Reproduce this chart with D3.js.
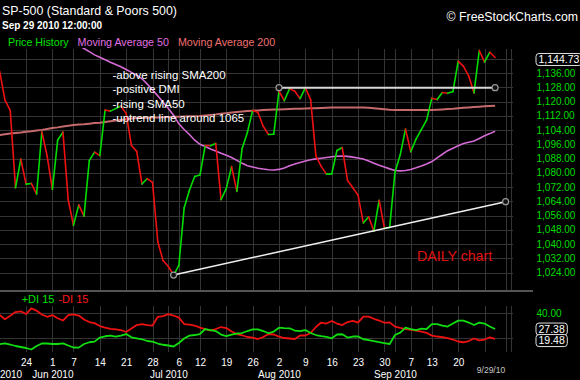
<!DOCTYPE html>
<html><head><meta charset="utf-8">
<script src="https://cdn.jsdelivr.net/npm/d3@7"></script>
<style>
html,body{margin:0;padding:0;background:#000;}
svg{display:block;font-family:"Liberation Sans",Arial,sans-serif;}
</style></head><body>
<svg id="c" width="580" height="380"></svg>
<script>
// ---------- DATA ----------
const days = [
"2010-05-17","2010-05-18","2010-05-19","2010-05-20","2010-05-21","2010-05-24","2010-05-25","2010-05-26","2010-05-27","2010-05-28",
"2010-06-01","2010-06-02","2010-06-03","2010-06-04","2010-06-07","2010-06-08","2010-06-09","2010-06-10","2010-06-11","2010-06-14",
"2010-06-15","2010-06-16","2010-06-17","2010-06-18","2010-06-21","2010-06-22","2010-06-23","2010-06-24","2010-06-25","2010-06-28",
"2010-06-29","2010-06-30","2010-07-01","2010-07-02","2010-07-06","2010-07-07","2010-07-08","2010-07-09","2010-07-12","2010-07-13",
"2010-07-14","2010-07-15","2010-07-16","2010-07-19","2010-07-20","2010-07-21","2010-07-22","2010-07-23","2010-07-26","2010-07-27",
"2010-07-28","2010-07-29","2010-07-30","2010-08-02","2010-08-03","2010-08-04","2010-08-05","2010-08-06","2010-08-09","2010-08-10",
"2010-08-11","2010-08-12","2010-08-13","2010-08-16","2010-08-17","2010-08-18","2010-08-19","2010-08-20","2010-08-23","2010-08-24",
"2010-08-25","2010-08-26","2010-08-27","2010-08-30","2010-08-31","2010-09-01","2010-09-02","2010-09-03","2010-09-07","2010-09-08",
"2010-09-09","2010-09-10","2010-09-13","2010-09-14","2010-09-15","2010-09-16","2010-09-17","2010-09-20","2010-09-21","2010-09-22",
"2010-09-23","2010-09-24","2010-09-27","2010-09-28","2010-09-29","2010-09-30","2010-10-01","2010-10-04"];

const closes = [
1136.94,1120.80,1115.05,1071.59,1087.69,1073.65,1074.03,1067.95,1103.06,1089.41,
1070.71,1098.38,1102.83,1064.88,1050.47,1062.00,1055.69,1086.84,1091.60,1089.63,
1115.23,1114.61,1116.04,1117.51,1113.20,1095.31,1092.04,1073.69,1076.76,1074.57,
1041.24,1030.71,1027.37,1022.58,1028.06,1060.27,1070.25,1077.96,1078.75,1095.34,
1095.17,1096.48,1064.88,1071.25,1083.48,1069.59,1093.67,1102.66,1115.01,1113.84,
1106.13,1101.53,1101.60,1125.86,1120.46,1127.24,1125.81,1121.64,1127.79,1121.06,
1089.47,1083.61,1079.25,1079.38,1092.54,1094.16,1075.63,1071.69,1067.36,1051.87,
1055.33,1047.22,1064.59,1048.92,1049.33,1080.29,1090.10,1104.51,1091.84,1098.87,
1104.18,1109.55,1121.90,1121.10,1125.07,1124.66,1125.59,1142.71,1139.78,1134.28,
1124.83,1148.67,1142.16,1147.70,1144.73];

const sma50 = [
1168,1167.5,1167,1166,1165.5,1164.5,1163.5,1162.5,1161.5,1160.5,
1159,1158,1156.5,1155,1153.3,1151.5,1149.8,1148,1146.2,1144.9,
1143.5,1142.1,1140.8,1139.5,1138,1136.4,1134.8,1132.8,1129.8,1126.5,
1123.2,1119.6,1116.1,1112.3,1107.5,1104.3,1101.5,1098.3,1096.0,1094.8,
1093.4,1092.2,1091.0,1089.8,1088.6,1087.0,1085.3,1084.0,1083.3,1082.6,
1082.1,1081.7,1081.6,1081.9,1082.7,1083.9,1085.0,1085.8,1086.6,1087.3,
1087.8,1088.2,1088.6,1089.0,1089.3,1089.4,1089.2,1088.8,1088.3,1087.8,
1086.6,1085.4,1084.2,1083.2,1082.2,1081.3,1081.1,1081.3,1081.9,1082.8,
1083.8,1084.9,1086.3,1088.4,1090.4,1092.4,1093.8,1095.2,1096.5,1097.2,
1097.9,1099.3,1100.8,1102.0,1103.3];

const sma200 = [
1101.2,1101.6,1102.0,1102.3,1102.6,1103.0,1103.3,1103.7,1104.1,1104.6,
1105.1,1105.5,1106.0,1106.4,1106.8,1107.1,1107.3,1107.6,1107.9,1108.1,
1108.5,1108.9,1109.3,1109.7,1110.1,1110.5,1110.7,1110.8,1110.9,1111.0,
1111.1,1111.2,1111.3,1111.4,1111.5,1111.6,1111.7,1111.8,1111.9,1112.2,
1112.5,1112.8,1113.2,1113.5,1113.8,1114.1,1114.4,1114.7,1114.9,1115.0,
1115.2,1115.4,1115.5,1115.6,1115.7,1115.8,1115.9,1116.0,1116.1,1116.2,
1116.3,1116.4,1116.5,1116.6,1116.6,1116.6,1116.7,1116.7,1116.7,1116.7,
1116.5,1116.3,1116.0,1115.7,1115.4,1115.2,1115.2,1115.2,1115.2,1115.2,
1115.2,1115.2,1115.2,1115.4,1115.6,1115.8,1116.0,1116.3,1116.5,1116.7,
1116.9,1117.1,1117.3,1117.5,1117.7];

const plusDI = [
15.2,16.0,15.0,13.8,13.0,12.2,11.0,13.8,15.8,15.8,
15.4,15.4,15.9,14.2,12.6,12.5,15.4,16.8,17.3,20.6,
21.6,22.1,21.4,22.2,23.4,20.8,20.0,19.2,17.8,17.3,
15.8,14.8,14.2,13.4,16.2,19.8,22.1,22.6,23.4,27.4,
26.6,25.8,23.0,21.8,23.0,23.8,24.2,25.8,27.1,27.2,
25.8,24.0,25.4,28.5,28.2,28.0,26.2,25.8,26.6,24.2,
22.6,21.8,21.2,20.0,23.0,23.2,20.6,21.4,21.4,19.2,
18.6,17.8,16.9,16.1,15.4,22.6,24.5,28.6,27.4,26.6,
27.8,27.4,31.4,31.4,30.2,29.4,31.8,34.1,34.1,32.6,
30.6,32.5,31.8,29.4,27.38];

const minusDI = [
38.6,35.2,38.0,41.0,41.6,39.4,44.0,42.1,39.0,37.2,
38.6,36.0,34.2,38.6,39.2,38.2,35.0,33.0,32.1,29.8,
28.6,27.6,27.2,26.6,25.0,27.8,30.6,31.4,30.6,30.2,
37.2,37.8,39.4,38.2,36.5,31.4,30.9,30.2,28.5,27.4,
26.2,27.4,29.0,28.2,25.4,23.4,22.4,21.0,20.5,19.4,
21.0,23.4,23.0,21.3,20.2,19.8,19.4,22.2,22.2,24.2,
29.0,32.6,31.8,33.8,31.8,30.6,33.0,34.0,32.6,37.3,
37.3,35.6,34.2,32.4,32.7,29.3,28.3,27.4,26.8,26.1,
25.4,24.4,22.1,21.4,20.9,20.1,19.0,17.4,16.8,17.8,
19.8,18.3,19.0,20.7,19.48];

const priceTicks = [1024,1032,1040,1048,1056,1064,1072,1080,1088,1096,1104,1112,1120,1128,1136];
const priceGrid = [1024,1032,1040,1048,1056,1064,1072,1080,1088,1096,1104,1112,1120,1128,1136,1144];
const diTicks = [40];
const diGrid = [20, 40];

// drawn trend lines: [date, value] endpoints
const supportLine = [["2010-07-02",1022.58],["2010-10-01",1063.8]];
const resistLine = [["2010-08-02",1127.79],["2010-09-29",1127.79]];

const notes = ["-above rising SMA200","-positive DMI","-rising SMA50","-uptrend line around 1065"];
const title = "SP-500 (Standard & Poors 500)";
const subtitle = "Sep 29 2010 12:00:00";
const legend = [["Price History","#00e000"],["Moving Average 50","#e070e0"],["Moving Average 200","#f07070"]];
const diLegend = [["+DI 15","#00e000"],["-DI 15","#ff1a1a"]];

// ---------- CHART ----------
const FONT = '"Liberation Sans",Arial,sans-serif';
const GREEN = "#00dd00", RED = "#ee1111";
const parse = d3.timeParse("%Y-%m-%d");
const svg = d3.select("#c");
const PR = 513;

const x = d3.scalePoint().domain(days).range([-0.3, 510.9]);
const yP = d3.scaleLinear().domain([1014.2, 1149.5]).range([290, 49]);
const yD = d3.scaleLinear().domain([9, 45.84]).range([352, 306]);

const defs = svg.append("defs");
defs.append("clipPath").attr("id","cp").append("rect").attr("x",0).attr("y",48).attr("width",PR).attr("height",242);
defs.append("clipPath").attr("id","cd").append("rect").attr("x",0).attr("y",306).attr("width",PR).attr("height",46);

// vertical grid at week starts and month starts
const gridDays = days.filter((d,i)=>{
  if(i===0) return false;
  const a=parse(days[i-1]), b=parse(d);
  return b.getDay()<a.getDay() || b.getMonth()!==a.getMonth();
});
const weekStarts = days.map((d,i)=>i).filter(i=>i>0 && parse(days[i]).getDay()<parse(days[i-1]).getDay()).map(i=>days[i]);
const monthStarts = days.map((d,i)=>i).filter(i=>i===0 || parse(days[i]).getMonth()!==parse(days[i-1]).getMonth()).map(i=>days[i]);

const grid = svg.append("g").attr("stroke","#343434").attr("stroke-width",1).attr("shape-rendering","crispEdges");
grid.selectAll(".vp").data(gridDays).join("line")
  .attr("x1",d=>Math.round(x(d))+0.5).attr("x2",d=>Math.round(x(d))+0.5).attr("y1",49).attr("y2",290);
grid.selectAll(".vd").data(gridDays).join("line").attr("class","vd")
  .attr("x1",d=>Math.round(x(d))+0.5).attr("x2",d=>Math.round(x(d))+0.5).attr("y1",306).attr("y2",352);
grid.selectAll(".hp").data(priceGrid).join("line").attr("class","hp")
  .attr("x1",0).attr("x2",PR).attr("y1",d=>Math.round(yP(d))+0.5).attr("y2",d=>Math.round(yP(d))+0.5);
grid.selectAll(".hd").data(diGrid).join("line").attr("class","hd")
  .attr("x1",0).attr("x2",PR).attr("y1",d=>Math.round(yD(d))+0.5).attr("y2",d=>Math.round(yD(d))+0.5);

// separator
svg.append("line").attr("x1",0).attr("x2",533).attr("y1",291).attr("y2",291)
  .attr("stroke","#707070").attr("stroke-width",1.5);

// price panel
const pp = svg.append("g").attr("clip-path","url(#cp)");
const lineP = d3.line().x(d=>x(d[0])).y(d=>yP(d[1]));
pp.append("path").datum(sma200.map((v,i)=>[days[i],v])).attr("d",lineP)
  .attr("fill","none").attr("stroke","#c46a6a").attr("stroke-width",2);
pp.append("path").datum(sma50.map((v,i)=>[days[i],v])).attr("d",lineP)
  .attr("fill","none").attr("stroke","#d46ad4").attr("stroke-width",1.6);

const segs = d3.pairs(closes.map((v,i)=>[days[i],v]));
pp.selectAll(".seg").data(segs).join("line")
  .attr("x1",d=>x(d[0][0])).attr("y1",d=>yP(d[0][1]))
  .attr("x2",d=>x(d[1][0])).attr("y2",d=>yP(d[1][1]))
  .attr("stroke",d=>d[1][1]>=d[0][1]?GREEN:RED).attr("stroke-width",1.6).attr("stroke-linecap","round");

pp.append("path").datum(resistLine).attr("d",lineP).attr("stroke","#d8d8d8").attr("stroke-width",2).attr("fill","none");
pp.append("path").datum(supportLine).attr("d",lineP).attr("stroke","#f0f0f0").attr("stroke-width",1.5).attr("fill","none");
pp.selectAll(".ep").data([resistLine[0],resistLine[1],supportLine[0],supportLine[1]]).join("circle")
  .attr("cx",d=>x(d[0])).attr("cy",d=>yP(d[1])).attr("r",3)
  .attr("fill","#111").attr("stroke","#999").attr("stroke-width",1.2);

// DI panel
const dp = svg.append("g").attr("clip-path","url(#cd)");
const lineD = d3.line().x(d=>x(d[0])).y(d=>yD(d[1]));
dp.append("path").datum(minusDI.map((v,i)=>[days[i],v])).attr("d",lineD)
  .attr("fill","none").attr("stroke","#ee1111").attr("stroke-width",1.8).attr("stroke-linejoin","round");
dp.append("path").datum(plusDI.map((v,i)=>[days[i],v])).attr("d",lineD)
  .attr("fill","none").attr("stroke","#11dd11").attr("stroke-width",1.8).attr("stroke-linejoin","round");

// right axes
function styleAxis(g){ g.select(".domain").remove(); g.attr("font-family",FONT).attr("font-size",10); }
svg.append("g").attr("transform","translate(536.5,0)")
  .call(d3.axisRight(yP).tickValues(priceTicks).tickFormat(d3.format(",.2f")).tickSize(0).tickPadding(0))
  .call(styleAxis).selectAll("text").attr("fill",GREEN);
svg.append("g").attr("transform","translate(536.5,0)")
  .call(d3.axisRight(yD).tickValues(diTicks).tickFormat(d3.format(".2f")).tickSize(0).tickPadding(0))
  .call(styleAxis).selectAll("text").attr("fill",GREEN);

// boxed last values
function box(val, cy, fmt){
  const g = svg.append("g");
  const t = g.append("text").attr("x",538.5).attr("y",cy).attr("dy","0.35em")
    .attr("fill","#fff").attr("font-family",FONT).attr("font-size",10.5).text(fmt(val));
  const w = t.node().getComputedTextLength();
  g.insert("rect","text").attr("x",536).attr("y",cy-6).attr("width",w+5).attr("height",12)
    .attr("rx",3).attr("fill","#000").attr("stroke","#e0e0e0").attr("stroke-width",1);
}
const lastI = closes.length-1;
box(closes[lastI], yP(closes[lastI])+2, d3.format(",.2f"));
const c1 = yD(plusDI[lastI]);
const c2 = Math.max(yD(minusDI[lastI]), c1+11.5);
box(plusDI[lastI], c1, d3.format(".2f"));
box(minusDI[lastI], c2, d3.format(".2f"));

// bottom axes
const labelDays = weekStarts.filter(d=>days.indexOf(d)<=89);
const ax1 = svg.append("g").attr("transform","translate(0,359)")
  .call(d3.axisBottom(x).tickValues(labelDays).tickFormat(d=>String(+d.slice(8))).tickSize(0).tickPadding(0))
  .call(styleAxis);
ax1.selectAll("text").attr("fill","#fff");
const monthLab = monthStarts.filter(d=>days.indexOf(d)<=lastI);
const ax2 = svg.append("g").attr("transform","translate(0,370.5)")
  .call(d3.axisBottom(x).tickValues(monthLab).tickFormat(d=>d3.timeFormat("%b %Y")(parse(d))).tickSize(0).tickPadding(0))
  .call(styleAxis);
ax2.selectAll("text").attr("fill","#fff");
svg.append("text").attr("x",491).attr("y",373).attr("text-anchor","middle")
  .attr("font-family",FONT).attr("font-size",8.5).attr("fill","#c8c8c8")
  .text(d3.timeFormat("%-m/%-d/%y")(parse(days[lastI])));

// titles
svg.append("text").attr("x",2).attr("y",14.5).attr("fill","#fff").attr("font-family",FONT).attr("font-size",12.4).text(title);
svg.append("text").attr("x",2).attr("y",28.5).attr("fill","#fff").attr("font-family",FONT).attr("font-size",10).attr("font-weight","bold").text(subtitle);
svg.append("text").attr("x",578).attr("y",21).attr("text-anchor","end").attr("fill","#fff").attr("font-family",FONT).attr("font-size",12.3).text("\u00A9 FreeStockCharts.com");

// legend
let lx = 8;
legend.forEach(([t,c])=>{
  const el = svg.append("text").attr("x",lx).attr("y",45.5).attr("fill",c).attr("font-family",FONT).attr("font-size",10.7).text(t);
  lx += el.node().getComputedTextLength()+9;
});
let dx = 21.7;
diLegend.forEach(([t,c])=>{
  const el = svg.append("text").attr("x",dx).attr("y",303).attr("fill",c).attr("font-family",FONT).attr("font-size",11).text(t);
  dx += el.node().getComputedTextLength()+4;
});

// annotations
svg.selectAll(".note").data(notes).join("text").attr("class","note")
  .attr("x",112.5).attr("y",(d,i)=>79+i*14.4).attr("fill","#fff")
  .attr("font-family",FONT).attr("font-size",11.5).text(d=>d);
svg.append("text").attr("x",417).attr("y",261).attr("fill","#e01010")
  .attr("font-family",FONT).attr("font-size",14.2).text("DAILY chart");
</script>
</body></html>
